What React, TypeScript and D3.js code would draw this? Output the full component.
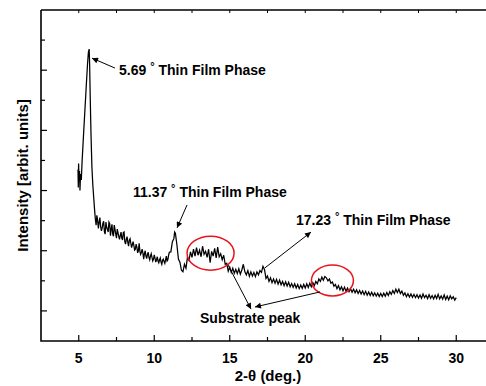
import * as d3 from 'd3';

// XRD scan: [2-theta (deg), intensity (arb.)]
const scan: [number, number][] = [
  [4.95, 5.7], [4.97, 5.1], [4.99, 5.9], [5.02, 5.3], [5.05, 5.65], [5.08, 5.0], [5.12, 5.55],
  [5.17, 5.35], [5.22, 5.95], [5.3, 6.7], [5.4, 7.6], [5.5, 8.5], [5.58, 9.2], [5.64, 9.6],
  [5.69, 9.7], [5.72, 9.2], [5.76, 8.1], [5.81, 6.9], [5.87, 5.8], [5.93, 5.2], [6.0, 4.7],
  [6.05, 4.35], [6.1, 4.05], [6.15, 3.85], [6.2, 4.18], [6.25, 4.0], [6.3, 3.74], [6.35, 3.95],
  [6.4, 4.1], [6.45, 3.8], [6.5, 3.66], [6.55, 3.75], [6.6, 3.92], [6.65, 3.98], [6.7, 3.63],
  [6.75, 3.55], [6.8, 3.95], [6.85, 3.78], [6.9, 3.7], [6.95, 3.62], [7.0, 3.95], [7.05, 3.9],
  [7.1, 3.5], [7.15, 3.72], [7.2, 3.88], [7.25, 3.55], [7.3, 3.48], [7.35, 3.85], [7.4, 3.71],
  [7.45, 3.55], [7.5, 3.42], [7.55, 3.72], [7.6, 3.6], [7.65, 3.48], [7.7, 3.38], [7.75, 3.5],
  [7.8, 3.62], [7.85, 3.42], [7.9, 3.36], [7.95, 3.6], [8.0, 3.62], [8.05, 3.3], [8.1, 3.22],
  [8.15, 3.38], [8.2, 3.47], [8.25, 3.28], [8.3, 3.15], [8.35, 3.35], [8.4, 3.4], [8.45, 3.24],
  [8.5, 3.1], [8.55, 3.2], [8.6, 3.3], [8.65, 3.18], [8.7, 3.02], [8.75, 3.05], [8.8, 3.22],
  [8.85, 3.12], [8.9, 2.93], [8.95, 3.0], [9.0, 3.25], [9.05, 2.98], [9.1, 2.88], [9.15, 2.95],
  [9.2, 3.05], [9.25, 2.92], [9.3, 2.72], [9.35, 2.9], [9.4, 3.0], [9.45, 2.82], [9.5, 2.74],
  [9.55, 2.88], [9.6, 2.95], [9.65, 2.78], [9.7, 2.7], [9.75, 2.82], [9.8, 2.9], [9.85, 2.78],
  [9.9, 2.66], [9.95, 2.72], [10.0, 2.86], [10.05, 2.75], [10.1, 2.62], [10.15, 2.7], [10.2, 2.8],
  [10.25, 2.66], [10.3, 2.6], [10.35, 2.7], [10.4, 2.76], [10.45, 2.62], [10.5, 2.55], [10.55, 2.68],
  [10.6, 2.72], [10.65, 2.64], [10.7, 2.58], [10.75, 2.7], [10.8, 2.82], [10.85, 2.66], [10.9, 2.7],
  [10.95, 2.85], [11.0, 2.95], [11.1, 2.96], [11.2, 3.3], [11.3, 3.4], [11.35, 3.62], [11.4, 3.58],
  [11.5, 3.2], [11.6, 2.72], [11.7, 2.62], [11.8, 2.35], [11.9, 2.3], [12.0, 2.55], [12.1, 2.42],
  [12.2, 2.78], [12.3, 2.68], [12.4, 2.96], [12.5, 2.78], [12.6, 3.05], [12.7, 2.82], [12.8, 3.1],
  [12.9, 2.85], [13.0, 3.02], [13.1, 2.8], [13.2, 3.15], [13.3, 2.88], [13.4, 2.98], [13.5, 2.78],
  [13.6, 3.05], [13.7, 2.6], [13.8, 2.98], [13.9, 2.82], [14.0, 3.08], [14.1, 2.76], [14.2, 3.12],
  [14.3, 2.8], [14.4, 2.9], [14.5, 2.7], [14.6, 2.85], [14.7, 2.55], [14.8, 2.58], [14.9, 2.32],
  [15.0, 2.45], [15.1, 2.28], [15.2, 2.42], [15.3, 2.25], [15.4, 2.38], [15.5, 2.24], [15.6, 2.4],
  [15.7, 2.22], [15.8, 2.36], [15.9, 2.55], [16.0, 2.3], [16.1, 2.2], [16.2, 2.34], [16.3, 2.15],
  [16.4, 2.3], [16.5, 2.16], [16.6, 2.28], [16.7, 2.14], [16.8, 2.3], [16.9, 2.2], [17.0, 2.34],
  [17.1, 2.28], [17.2, 2.48], [17.3, 2.38], [17.4, 2.08], [17.5, 2.16], [17.6, 1.98], [17.7, 2.1],
  [17.8, 1.94], [17.9, 2.06], [18.0, 1.92], [18.1, 2.05], [18.2, 1.89], [18.3, 2.02], [18.4, 1.87],
  [18.5, 1.98], [18.6, 1.84], [18.7, 1.97], [18.8, 1.83], [18.9, 1.95], [19.0, 1.8], [19.1, 1.91],
  [19.2, 1.78], [19.3, 1.9], [19.4, 1.76], [19.5, 1.88], [19.6, 1.74], [19.7, 1.86], [19.8, 1.75],
  [19.9, 1.88], [20.0, 1.76], [20.1, 1.9], [20.2, 1.78], [20.3, 1.92], [20.4, 1.8], [20.5, 1.94],
  [20.6, 1.84], [20.7, 1.98], [20.8, 1.9], [20.9, 2.06], [21.0, 1.98], [21.1, 2.12], [21.2, 2.02],
  [21.3, 2.14], [21.4, 2.1], [21.5, 2.0], [21.6, 2.06], [21.7, 1.92], [21.8, 1.96], [21.9, 1.82],
  [22.0, 1.88], [22.1, 1.74], [22.2, 1.84], [22.3, 1.7], [22.4, 1.8], [22.5, 1.67], [22.6, 1.79],
  [22.7, 1.65], [22.8, 1.76], [22.9, 1.64], [23.0, 1.74], [23.1, 1.62], [23.2, 1.72], [23.3, 1.6],
  [23.4, 1.7], [23.5, 1.58], [23.6, 1.68], [23.7, 1.56], [23.8, 1.66], [23.9, 1.54], [24.0, 1.65],
  [24.1, 1.52], [24.2, 1.63], [24.3, 1.51], [24.4, 1.62], [24.5, 1.5], [24.6, 1.6], [24.7, 1.49],
  [24.8, 1.59], [24.9, 1.48], [25.0, 1.58], [25.1, 1.48], [25.2, 1.59], [25.3, 1.49], [25.4, 1.61],
  [25.5, 1.51], [25.6, 1.64], [25.7, 1.55], [25.8, 1.68], [25.9, 1.58], [26.0, 1.72], [26.1, 1.61],
  [26.2, 1.72], [26.3, 1.58], [26.4, 1.66], [26.5, 1.52], [26.6, 1.6], [26.7, 1.47], [26.8, 1.57],
  [26.9, 1.46], [27.0, 1.56], [27.1, 1.45], [27.2, 1.55], [27.3, 1.44], [27.4, 1.54], [27.5, 1.43],
  [27.6, 1.53], [27.7, 1.42], [27.8, 1.56], [27.9, 1.44], [28.0, 1.52], [28.1, 1.41], [28.2, 1.54],
  [28.3, 1.42], [28.4, 1.51], [28.5, 1.4], [28.6, 1.52], [28.7, 1.41], [28.8, 1.55], [28.9, 1.4],
  [29.0, 1.5], [29.1, 1.39], [29.2, 1.53], [29.3, 1.38], [29.4, 1.49], [29.5, 1.37], [29.6, 1.5],
  [29.7, 1.4], [29.8, 1.47], [29.9, 1.36], [30.0, 1.44],
];

const xTicks = [5, 10, 15, 20, 25, 30];
const xMinor = [7.5, 12.5, 17.5, 22.5, 27.5];
const yTicks = [1, 2, 3, 4, 5, 6, 7, 8, 9, 10];

// phase labels: text anchor and arrow (from -> to) in data units
const phaseLabels = [
  { value: '5.69', tx: 7.67, ty: 8.84, ax: 7.4, ay: 9.07, bx: 5.88, by: 9.4 },
  { value: '11.37', tx: 8.59, ty: 4.79, ax: 12.17, ay: 4.52, bx: 11.51, by: 3.76 },
  { value: '17.23', tx: 19.39, ty: 3.86, ax: 17.33, ay: 2.43, bx: 20.38, by: 3.62 },
];
const substrateArrows = [
  { ax: 14.88, ay: 2.53, bx: 16.41, by: 1.06 },
  { ax: 20.98, ay: 1.63, bx: 16.67, by: 1.13 },
];
const substrateLabel = { tx: 13.03, ty: 0.6 };
const circles = [
  { cx: 13.73, cy: 2.92, rx: 23.5, ry: 17 },
  { cx: 21.8, cy: 2.01, rx: 21, ry: 15.5 },
];

const font = '"Liberation Sans", Arial, Helvetica, sans-serif';

export default function App() {
  const width = 486;
  const height = 386;
  const x = d3.scaleLinear().domain([2.5, 32.5]).range([41, 494]);
  const y = d3.scaleLinear().domain([0, 11]).range([341, 10]);
  const line = d3.line<[number, number]>().x(d => x(d[0])).y(d => y(d[1]));
  const [x0, x1] = x.range();
  const [y0, y1] = y.range();
  const allTop = [...xTicks, ...xMinor];

  return (
    <svg width={width} height={height} style={{ position: 'absolute', left: 0, top: 0, background: '#fff' }}
      fontFamily={font} fontWeight="bold">
      <defs>
        <marker id="arr" viewBox="0 0 10 10" refX="10" refY="5" markerWidth="7" markerHeight="6"
          markerUnits="userSpaceOnUse" orient="auto">
          <path d="M0,0 L10,5 L0,10 z" fill="#000" />
        </marker>
      </defs>

      {/* frame */}
      <path d={`M${x0},${y1} H${x1} M${x0},${y1} V${y0} H${x1}`} fill="none" stroke="#000" strokeWidth={1.6} />

      {/* bottom ticks */}
      {xTicks.map(t => (
        <g key={'xt' + t}>
          <line x1={x(t)} x2={x(t)} y1={y0} y2={y0 - 6} stroke="#000" strokeWidth={1.2} />
          <text x={x(t)} y={363} textAnchor="middle" fontSize={14}>{t}</text>
        </g>
      ))}
      {xMinor.map(t => (
        <line key={'xm' + t} x1={x(t)} x2={x(t)} y1={y0} y2={y0 - 4} stroke="#000" strokeWidth={1.2} />
      ))}
      {allTop.map(t => (
        <line key={'tt' + t} x1={x(t)} x2={x(t)} y1={y1} y2={y1 + 3} stroke="#000" strokeWidth={1} />
      ))}
      {yTicks.map(t => (
        <line key={'yt' + t} x1={x0} x2={x0 + (t % 2 === 1 ? 6 : 4)} y1={y(t)} y2={y(t)} stroke="#000" strokeWidth={1.2} />
      ))}

      {/* axis titles */}
      <text x={268} y={381} textAnchor="middle" fontSize={15}>2-θ (deg.)</text>
      <text transform={`translate(28,${(y0 + y1) / 2}) rotate(-90)`} textAnchor="middle" fontSize={15}>
        Intensity [arbit. units]
      </text>

      {/* scan */}
      <path d={line(scan) ?? ''} fill="none" stroke="#000" strokeWidth={1.25} strokeLinejoin="miter" />

      {/* substrate circles */}
      {circles.map((c, i) => (
        <ellipse key={'c' + i} cx={x(c.cx)} cy={y(c.cy)} rx={c.rx} ry={c.ry} fill="none" stroke="#e8141c" strokeWidth={1.5} />
      ))}

      {/* phase annotations */}
      {phaseLabels.map(p => (
        <g key={p.value}>
          <line x1={x(p.ax)} y1={y(p.ay)} x2={x(p.bx)} y2={y(p.by)} stroke="#000" strokeWidth={1} markerEnd="url(#arr)" />
          <text x={x(p.tx)} y={y(p.ty)} fontSize={14}>
            {p.value + ' '}
            <tspan dy={-5} fontSize={11}>°</tspan>
            <tspan dy={5}>{' Thin Film Phase'}</tspan>
          </text>
        </g>
      ))}

      {substrateArrows.map((a, i) => (
        <line key={'s' + i} x1={x(a.ax)} y1={y(a.ay)} x2={x(a.bx)} y2={y(a.by)} stroke="#000" strokeWidth={1} markerEnd="url(#arr)" />
      ))}
      <text x={x(substrateLabel.tx)} y={y(substrateLabel.ty)} fontSize={14}>Substrate peak</text>
    </svg>
  );
}
